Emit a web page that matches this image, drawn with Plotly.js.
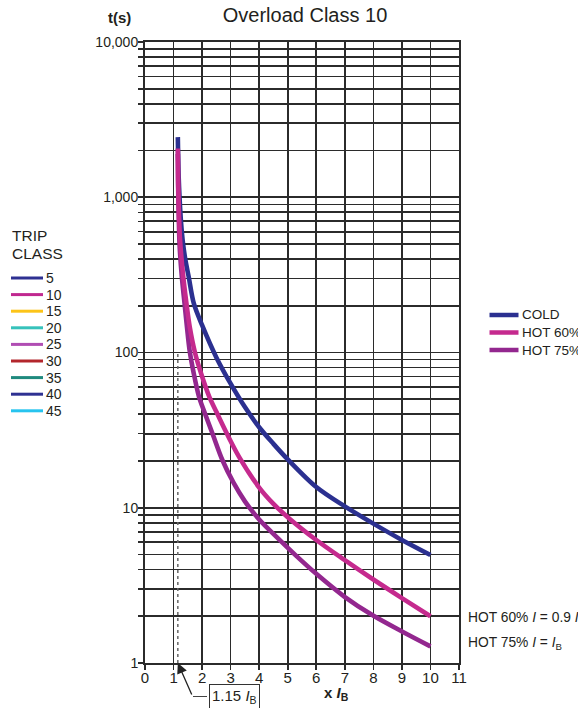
<!DOCTYPE html>
<html>
<head>
<meta charset="utf-8">
<script src="https://cdn.plot.ly/plotly-3.0.1.min.js"></script>
<style>html,body{margin:0;padding:0;background:#fff;}</style>
</head>
<body>
<div id="chart" style="width:578px;height:708px;"></div>
<script>
// ---- data ----
const coldX = [1.15, 1.16, 1.18, 1.21, 1.26, 1.33, 1.42, 1.53, 1.71, 2.0, 2.5, 3.0, 3.5, 4.0, 4.5, 5.0, 6.0, 7.0, 8.0, 9.0, 10.0];
const coldT = [2440, 1900, 1350, 1000, 700, 507, 390, 308, 207, 150, 93, 63, 44.5, 33, 25.8, 20.5, 13.6, 10.2, 7.9, 6.2, 4.96];

const hot60X = [1.15, 1.16, 1.18, 1.22, 1.33, 1.44, 1.57, 1.75, 2.0, 2.25, 2.5, 2.85, 3.3, 4.0, 4.5, 5.0, 6.0, 7.0, 8.0, 9.0, 10.0];
const hot60T = [2060, 1300, 900, 560, 320, 215, 145, 100, 70, 52, 41.5, 30.5, 21.2, 13.5, 10.6, 8.7, 6.2, 4.6, 3.45, 2.62, 2.0];

const hot75X = [1.15, 1.16, 1.18, 1.21, 1.29, 1.386, 1.48, 1.56, 1.71, 1.89, 2.1, 2.36, 2.71, 3.1, 3.5, 4.0, 4.66, 5.3, 5.98, 6.98, 7.99, 9.02, 10.0];
const hot75T = [1900, 1200, 800, 500, 308, 207, 140, 104, 73, 52, 40.5, 30.2, 20.3, 14.5, 11.0, 8.4, 6.35, 4.9, 3.78, 2.68, 2.02, 1.59, 1.28];

const seriesNames = ['COLD', 'HOT 60%', 'HOT 75%'];
const seriesColors = ['#2b3090', '#c52a8e', '#93278f'];

const tripClasses = ['5', '10', '15', '20', '25', '30', '35', '40', '45'];
const tripColors = ['#2e3192', '#c0288f', '#fcc419', '#36c2bb', '#b04db3', '#b3262c', '#1f8a7e', '#2e3192', '#27c4ef'];

const markerX = [1.15, 1.15];
const markerT = [1, 100];

const xTickVals = [0, 1, 2, 3, 4, 5, 6, 7, 8, 9, 10, 11];
const xTickLabels = ['0', '1', '2', '3', '4', '5', '6', '7', '8', '9', '10', '11'];
const yDecades = [1, 10, 100, 1000, 10000];
const yDecadeLabels = ['1', '10', '100', '1,000', '10,000'];

// ---- build log grid ticks (labels only at decades) ----
const yTickVals = [], yTickText = [];
for (let d = 0; d < yDecades.length - 1; d++) {
  for (let m = 1; m <= 9; m++) {
    yTickVals.push(yDecades[d] * m);
    yTickText.push(m === 1 ? yDecadeLabels[d] : '');
  }
}
yTickVals.push(yDecades[yDecades.length - 1]);
yTickText.push(yDecadeLabels[yDecadeLabels.length - 1]);

// ---- pixel -> paper helpers (plot area 145..459 x 42..663) ----
const PL = 145, PW = 314, PT = 42, PH = 621;
const px = v => (v - PL) / PW;
const py = v => (PT + PH - v) / PH;

const gridC = '#2b2b2b';
const annotations = [];
const shapes = [];

const traces = [];
traces.push({x: markerX, y: markerT, mode: 'lines', line: {color: '#666', width: 1.5, dash: 'dot'}, showlegend: false, hoverinfo: 'skip'});
const xs = [coldX, hot60X, hot75X];
const ts = [coldT, hot60T, hot75T];
const drawOrder = [0, 2, 1];
drawOrder.forEach(i => {
  traces.push({
    x: xs[i], y: ts[i], mode: 'lines', name: seriesNames[i], showlegend: false,
    line: {color: seriesColors[i], width: 4.6, shape: 'spline', smoothing: 0.9}
  });
});

// right-hand legend (drawn by hand for exact row spacing)
seriesNames.forEach((n, i) => {
  const yy = 315 + i * 17.5;
  shapes.push({type: 'line', xref: 'paper', yref: 'paper', x0: px(489.5), x1: px(518.5), y0: py(yy), y1: py(yy),
               line: {color: seriesColors[i], width: 4.5}});
  annotations.push({text: n, xref: 'paper', yref: 'paper', x: px(519.5), y: py(yy), xanchor: 'left', yanchor: 'middle',
                    showarrow: false, font: {size: 13.5}});
});

// left "TRIP CLASS" legend
annotations.push({text: 'TRIP', xref: 'paper', yref: 'paper', x: px(10), y: py(235), xanchor: 'left', yanchor: 'middle', showarrow: false, font: {size: 15.5}});
annotations.push({text: 'CLASS', xref: 'paper', yref: 'paper', x: px(10), y: py(254), xanchor: 'left', yanchor: 'middle', showarrow: false, font: {size: 15.5}});
tripClasses.forEach((c, i) => {
  const yy = 278 + i * 16.6;
  shapes.push({type: 'line', xref: 'paper', yref: 'paper', x0: px(11), x1: px(43), y0: py(yy), y1: py(yy),
               line: {color: tripColors[i], width: 3}});
  annotations.push({text: c, xref: 'paper', yref: 'paper', x: px(44), y: py(yy), xanchor: 'left', yanchor: 'middle',
                    showarrow: false, font: {size: 14}});
});

// axis titles and notes
annotations.push({text: '<b>t(s)</b>', xref: 'paper', yref: 'paper', x: px(119), y: py(17), xanchor: 'center', yanchor: 'middle', showarrow: false, font: {size: 15}});
annotations.push({text: '<b>x <i>I</i><sub>B</sub></b>', xref: 'paper', yref: 'paper', x: px(336), y: py(693), xanchor: 'center', yanchor: 'middle', showarrow: false, font: {size: 15}});
annotations.push({text: '1.15 <i>I</i><sub>B</sub>', xref: 'paper', yref: 'paper', x: px(234.7), y: py(696), xanchor: 'center', yanchor: 'middle',
                  showarrow: false, font: {size: 15}, bordercolor: '#333', borderwidth: 1, borderpad: 2, bgcolor: '#fff'});
annotations.push({text: ' ', xref: 'x', yref: 'y', x: 1.15, y: 0, ax: 15, ay: 34, showarrow: true,
                  arrowhead: 2, arrowsize: 1.6, arrowwidth: 1.3, arrowcolor: '#222', font: {size: 2}});
shapes.push({type: 'line', xref: 'paper', yref: 'paper', x0: px(193), x1: px(207), y0: py(696.5), y1: py(696.5), line: {color: '#444', width: 1}});
annotations.push({text: 'HOT 60% <i>I</i> = 0.9 <i>I</i><sub>B</sub>', xref: 'paper', yref: 'paper', x: px(465.5), y: py(618),
                  xanchor: 'left', yanchor: 'middle', showarrow: false, font: {size: 13.8}});
annotations.push({text: 'HOT 75% <i>I</i> = <i>I</i><sub>B</sub>', xref: 'paper', yref: 'paper', x: px(465.5), y: py(643),
                  xanchor: 'left', yanchor: 'middle', showarrow: false, font: {size: 13.8}});

const layout = {
  width: 578, height: 708,
  margin: {l: 145, r: 119, t: 42, b: 45},
  paper_bgcolor: '#fff', plot_bgcolor: '#fff',
  font: {family: 'Liberation Sans, Arial, sans-serif', color: '#231f20', size: 13},
  title: {text: 'Overload Class 10', font: {size: 20, color: '#231f20'},
          x: 305 / 578, xref: 'container', xanchor: 'center',
          y: 1 - 15 / 708, yref: 'container', yanchor: 'middle'},
  xaxis: {
    range: [0, 11], tickvals: xTickVals, ticktext: xTickLabels,
    showgrid: true, gridcolor: gridC, gridwidth: 1.7,
    ticks: 'outside', ticklen: 5, tickcolor: gridC, tickwidth: 1.6,
    showline: true, linecolor: gridC, linewidth: 2, mirror: true,
    zeroline: false, tickfont: {size: 15}, ticklabelstandoff: -5, fixedrange: true
  },
  yaxis: {
    type: 'log', range: [0, 4], tickvals: yTickVals, ticktext: yTickText,
    showgrid: true, gridcolor: gridC, gridwidth: 1.7,
    ticks: 'outside', ticklen: 5, tickcolor: gridC, tickwidth: 1.6,
    showline: true, linecolor: gridC, linewidth: 2, mirror: true,
    zeroline: false, tickfont: {size: 14}, ticklabelstandoff: -3, fixedrange: true
  },
  annotations: annotations,
  shapes: shapes,
  showlegend: false
};

Plotly.newPlot('chart', traces, layout, {displayModeBar: false, staticPlot: true});
</script>
</body>
</html>
